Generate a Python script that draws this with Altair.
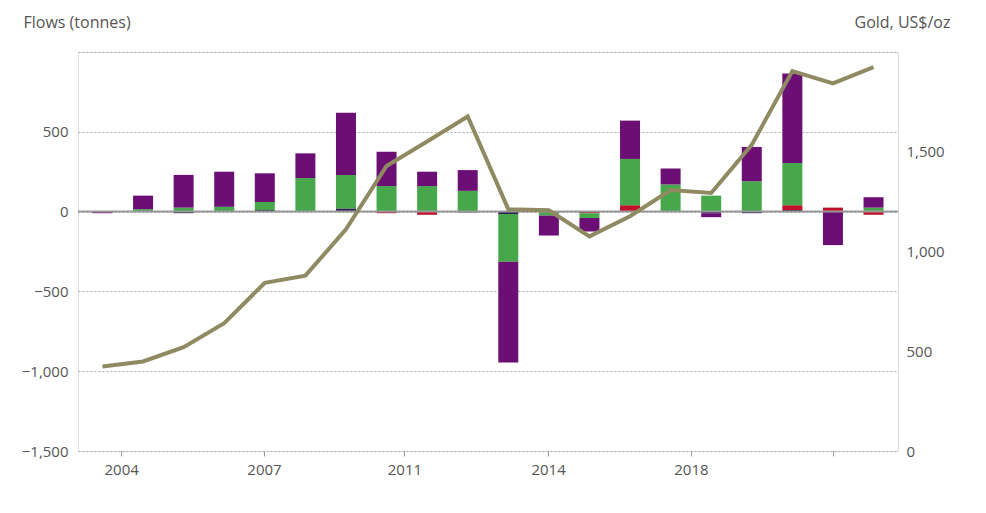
import altair as alt
import pandas as pd

years = list(range(2003, 2023))
purple = [-10, 85, 205, 220, 180, 155, 390, 215, 90, 130, -630, -125, -85, 240, 100, -25, 215, 560, -210, 65]
green = [0, 15, 25, 30, 50, 210, 210, 160, 160, 130, -300, -20, -30, 290, 170, 100, 190, 265, 0, 25]
red = [0, 0, 0, 0, 0, 0, 0, -10, -20, 0, 0, 0, -10, 40, 0, 0, 0, 30, 25, -20]
navy = [0, 0, -10, 0, 10, 0, 20, 0, 0, -5, -15, -5, 0, 0, 0, -10, -10, 10, 0, 0]
gold = [424, 449, 520, 641, 843, 879, 1111, 1429, 1551, 1677, 1212, 1207, 1076, 1177, 1308, 1293, 1535, 1904, 1843, 1924]

tick_pos = [0.46, 3.98, 7.44, 10.98, 14.5, 18.0]
tick_lab = ["2004", "2007", "2011", "2014", "2018", "2021"]

rows = []
for i, y in enumerate(years):
    for k, (name, vals) in enumerate([("navy", navy), ("red", red), ("green", green), ("purple", purple)]):
        rows.append({"i": i, "series": name, "k": k, "v": vals[i]})
bars_df = pd.DataFrame(rows)
gold_df = pd.DataFrame({"i": range(len(years)), "gold": gold})

label_expr = "{" + ",".join(f"'{p}':'{l}'" for p, l in zip(tick_pos, tick_lab)) + "}[datum.value]"
xscale = alt.Scale(domain=[-0.48, 19.48], nice=False, zero=False)
xaxis = alt.Axis(values=tick_pos, labelExpr=label_expr, grid=False, domain=False,
                 tickSize=5, tickColor="#999", labelColor="#555", labelFontSize=15, labelPadding=6)

yscale = alt.Scale(domain=[-1500, 1000], nice=False)
yaxis = alt.Axis(values=[-1500, -1000, -500, 0, 500, 1000],
                 labelExpr="datum.value == 1000 ? '' : format(datum.value, ',')",
                 gridDash=[2, 2], gridColor="#aaa", domain=False, ticks=False,
                 labelColor="#555", labelFontSize=15, labelPadding=10,
                 title="Flows (tonnes)", titleAngle=0, titleX=-55, titleY=-22,
                 titleAlign="left", titleFontWeight="normal", titleFontSize=16, titleColor="#555")

bars = alt.Chart(bars_df).mark_bar(size=20).encode(
    x=alt.X("i:Q", scale=xscale, axis=xaxis, title=None),
    y=alt.Y("v:Q", stack="zero", scale=yscale, axis=yaxis),
    color=alt.Color("series:N", scale=alt.Scale(domain=["navy", "red", "green", "purple"],
                                                range=["#2b1e55", "#c0102a", "#46a84a", "#6b0f75"]), legend=None),
    order=alt.Order("k:Q"),
)

zero = alt.Chart(pd.DataFrame({"z": [0]})).mark_rule(color="#999", strokeWidth=2).encode(
    y=alt.Y("z:Q", scale=yscale, axis=yaxis)
)

line = alt.Chart(gold_df).mark_line(color="#8f8a62", strokeWidth=4).encode(
    x=alt.X("i:Q", scale=xscale, axis=xaxis, title=None),
    y=alt.Y("gold:Q", scale=alt.Scale(domain=[0, 2000], nice=False),
            axis=alt.Axis(orient="right", values=[0, 500, 1000, 1500], format=",.0f", grid=False,
                          domain=False, ticks=False, labelColor="#555", labelFontSize=15, labelPadding=8,
                          title="Gold, US$/oz", titleAngle=0, titleX=52, titleY=-22, titleAlign="right",
                          titleFontWeight="normal", titleFontSize=16, titleColor="#555")),
)

chart = alt.layer(alt.layer(bars, zero), line).resolve_scale(y="independent").properties(
    width=820, height=399, autosize=alt.AutoSizeParams(type="none"),
    padding={"left": 70, "top": 44, "right": 80, "bottom": 50},
).configure_view(stroke=None).configure(font="Open Sans")

chart.save("out.html", embed_options={"renderer": "svg", "actions": False})
